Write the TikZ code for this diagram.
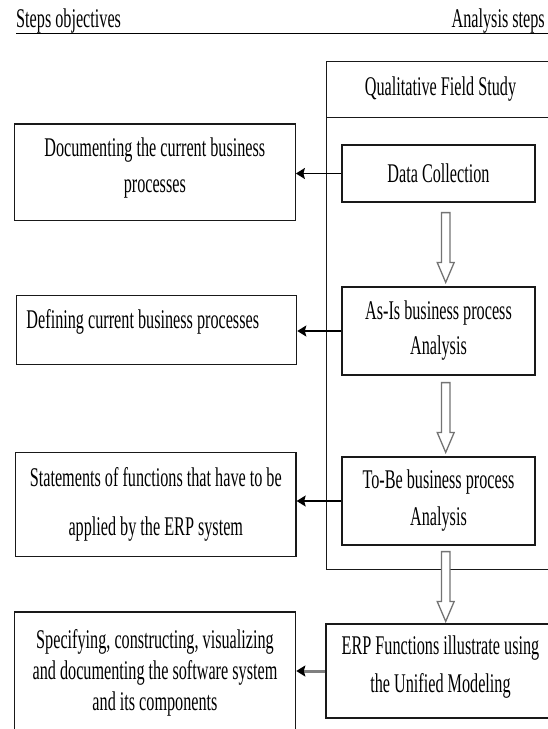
\documentclass[tikz,border=0pt]{standalone}
\usepackage{fontspec}
\setmainfont{Liberation Serif}[FakeStretch=0.6]
\usetikzlibrary{arrows.meta,calc}

\tikzset{
  leading/.style={font=\fontsize{27}{#1}\selectfont},
  leading/.default=33,
  frame/.style={draw=black!90, line width=1.2pt, inner sep=0pt, align=center, leading},
  stageframe/.style={draw=black!90, line width=1pt, inner sep=0pt, align=center, leading},
  pointer/.style={draw=black, line width=1.3pt, -{Stealth[length=9pt,width=11pt,inset=1.5pt]}},
  hollow/.style={draw=black!55, line width=1.3pt, fill=white, line join=miter},
}

% block arrow between two stacked steps: #1 upper node, #2 lower node,
% #3 gap below the upper node, #4 gap above the lower node
\newcommand\hollowarrow[4]{%
  \draw[hollow] let \p1=(#1.south), \p2=(#2.north) in
    (\x1+2.95pt,\y1-#3) -- (\x1+11.45pt,\y1-#3)
    -- (\x1+11.45pt,\y2+#4+20pt) -- (\x1+15.7pt,\y2+#4+20pt)
    -- (\x1+7.2pt,\y2+#4)
    -- (\x1-1.3pt,\y2+#4+20pt) -- (\x1+2.95pt,\y2+#4+20pt) -- cycle;}

\begin{document}
\begin{tikzpicture}[x=1pt,y=-1pt]
  \useasboundingbox (0,0) rectangle (547,729);

  % column headings
  \node[anchor=base west, inner sep=0pt, leading] (hl) at (16,27) {Steps objectives};
  \node[anchor=base east, inner sep=0pt, leading] (hr) at (545,27) {Analysis steps};
  \coordinate (ruleend) at (549,33.5);
  \draw[line width=1.5pt] (hl.west |- ruleend) -- (ruleend);

  % field study container with its title
  \node[stageframe, minimum width=229pt, minimum height=508pt] (stage) at (440.5,315) {};
  \node[stageframe, minimum width=229pt, minimum height=56pt] (fieldtitle) at (440.5,89) {Qualitative Field Study};

  % analysis steps
  \node[frame, minimum width=193pt, minimum height=57pt] (dc) at (438.5,173.5) {Data Collection};
  \node[frame, minimum width=193pt, minimum height=88pt, leading=35] (asis) at (438.5,331)
    {As-Is business process\\Analysis};
  \node[frame, minimum width=193pt, minimum height=88pt, leading=37] (tobe) at (438.5,501)
    {To-Be business process\\Analysis};
  \node[frame, minimum width=229pt, minimum height=94pt, leading=38, text depth=13pt] (erp) at (440.5,671)
    {ERP Functions illustrate using\\the Unified Modeling};

  % step objectives
  \node[frame, minimum width=281pt, minimum height=96.5pt, leading=36, text depth=14pt] (l1) at (154.8,172.3)
    {Documenting the current business\\processes};
  \node[frame, minimum width=280.4pt, minimum height=68.8pt, text depth=22pt] (l2) at (156.5,330)
    {\makebox[260pt][l]{Defining current business processes}};
  \node[frame, minimum width=280.5pt, minimum height=104.4pt, leading=49] (l3) at (155.8,504.5)
    {Statements of functions that have to be\\applied by the ERP system};
  \node[frame, minimum width=281.4pt, minimum height=126pt, leading=31, text depth=11pt] (l4) at (155,675)
    {Specifying, constructing, visualizing\\and documenting the software system\\and its components};

  % flow between the steps
  \hollowarrow{dc}{asis}{10pt}{4pt}
  \hollowarrow{asis}{tobe}{7pt}{4pt}
  \hollowarrow{tobe}{erp}{6pt}{2pt}

  % each step yields its objective
  \draw[pointer] (dc.west) -- (dc.west -| l1.east);
  \draw[pointer] (asis.west) -- (asis.west -| l2.east);
  \draw[pointer] (tobe.west) -- (tobe.west -| l3.east);
  \draw[pointer, draw=black!50, line width=3pt,
        -{Stealth[length=9pt,width=11pt,inset=1.5pt,color=black]}] (erp.west) -- (erp.west -| l4.east);
\end{tikzpicture}
\end{document}
